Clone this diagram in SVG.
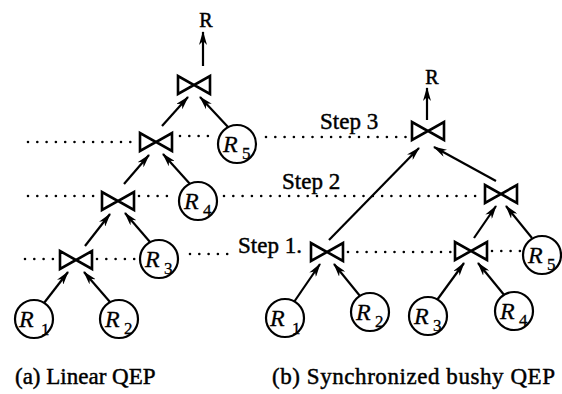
<svg xmlns="http://www.w3.org/2000/svg" width="562" height="394" viewBox="0 0 562 394">
<defs>
<style>
.bt{fill:none;stroke:#000;stroke-width:2.6;stroke-linejoin:miter}
.c{fill:#fff;stroke:#000;stroke-width:2.2}
.e{stroke:#000;stroke-width:2.2;fill:none;marker-end:url(#ah)}
.d{stroke:#000;stroke-width:2.6;stroke-linecap:round;stroke-dasharray:0 9.3;fill:none}
.rl{font-family:"Liberation Serif","Times New Roman",serif;font-style:italic;font-size:24px;fill:#000;stroke:#000;stroke-width:0.3}
.sb{font-family:"Liberation Serif","Times New Roman",serif;font-size:17px;fill:#000;stroke:#000;stroke-width:0.3}
.t{font-family:"Liberation Serif","Times New Roman",serif;font-size:23px;fill:#000;stroke:#000;stroke-width:0.45}
.top{font-family:"Liberation Serif","Times New Roman",serif;font-size:20px;fill:#000;text-anchor:middle;stroke:#000;stroke-width:0.5}
</style>
<marker id="ah" markerWidth="14" markerHeight="8" refX="13" refY="4" orient="auto" markerUnits="userSpaceOnUse">
<path d="M0,0 L14,4 L0,8 L4,4 Z" fill="#000"/>
</marker>
<path id="bow" d="M-16,-9 L-16,9 L0,0 Z M16,-9 L16,9 L0,0 Z"/>
</defs>

<g id="dotted-lines">
<line class="d" x1="28" y1="142" x2="135" y2="142"/>
<line class="d" x1="180" y1="136" x2="214" y2="136"/>
<line class="d" x1="266" y1="137" x2="406" y2="137"/>
<line class="d" x1="28" y1="196" x2="98" y2="196"/>
<line class="d" x1="139" y1="196" x2="176" y2="196"/>
<line class="d" x1="224" y1="196" x2="482" y2="196"/>
<line class="d" x1="25" y1="259" x2="56" y2="259"/>
<line class="d" x1="97" y1="259" x2="136" y2="259"/>
<line class="d" x1="190" y1="254" x2="233" y2="254"/>
<line class="d" x1="348" y1="252" x2="451" y2="252"/>
<line class="d" x1="492" y1="251" x2="521" y2="251"/>
</g>

<g id="connectors">
<line class="e" x1="44" y1="303" x2="68" y2="272"/>
<line class="e" x1="110" y1="302" x2="84" y2="272"/>
<line class="e" x1="85" y1="246" x2="110" y2="214"/>
<line class="e" x1="150" y1="242" x2="125" y2="213"/>
<line class="e" x1="124" y1="184" x2="149" y2="155"/>
<line class="e" x1="190" y1="184" x2="163" y2="154"/>
<line class="e" x1="162" y1="126" x2="188" y2="97"/>
<line class="e" x1="228" y1="127" x2="200" y2="97"/>
<line class="e" x1="203" y1="66" x2="203" y2="32"/>
<line class="e" x1="294" y1="302" x2="320" y2="264"/>
<line class="e" x1="360" y1="296" x2="334" y2="264"/>
<line class="e" x1="437" y1="300" x2="464" y2="263"/>
<line class="e" x1="505" y1="296" x2="478" y2="263"/>
<line class="e" x1="329" y1="240" x2="419" y2="148"/>
<line class="e" x1="496" y1="181" x2="434" y2="147"/>
<line class="e" x1="474" y1="238" x2="496" y2="206"/>
<line class="e" x1="532" y1="238" x2="506" y2="206"/>
<line class="e" x1="427" y1="120" x2="427" y2="88"/>
</g>

<g id="a-out"><text class="top" x="206" y="27">R</text></g>
<g id="a-J4"><use href="#bow" class="bt" x="194" y="85"/></g>
<g id="a-J3"><use href="#bow" class="bt" x="156" y="142"/></g>
<g id="a-J2"><use href="#bow" class="bt" x="118" y="201"/></g>
<g id="a-J1"><use href="#bow" class="bt" x="76" y="260"/></g>
<g id="a-R5"><circle class="c" cx="237" cy="144" r="19"/><text class="rl" x="223" y="152">R</text><text class="sb" x="242" y="159">5</text></g>
<g id="a-R4"><circle class="c" cx="198" cy="201" r="19"/><text class="rl" x="184" y="209">R</text><text class="sb" x="203" y="216">4</text></g>
<g id="a-R3"><circle class="c" cx="159" cy="259" r="19"/><text class="rl" x="145" y="267">R</text><text class="sb" x="164" y="274">3</text></g>
<g id="a-R1"><circle class="c" cx="34" cy="319" r="19"/><text class="rl" x="19" y="327">R</text><text class="sb" x="41" y="335">1</text></g>
<g id="a-R2"><circle class="c" cx="119" cy="319" r="19"/><text class="rl" x="105" y="327">R</text><text class="sb" x="124" y="334">2</text></g>

<g id="b-out"><text class="top" x="432" y="84">R</text></g>
<g id="b-JT"><use href="#bow" class="bt" x="428" y="131"/></g>
<g id="b-J2R"><use href="#bow" class="bt" x="501" y="194"/></g>
<g id="b-J1L"><use href="#bow" class="bt" x="327" y="252"/></g>
<g id="b-J1R"><use href="#bow" class="bt" x="471" y="251"/></g>
<g id="b-R5"><circle class="c" cx="542" cy="255" r="19"/><text class="rl" x="528" y="263">R</text><text class="sb" x="547" y="270">5</text></g>
<g id="b-R1"><circle class="c" cx="285" cy="318" r="19"/><text class="rl" x="270" y="326">R</text><text class="sb" x="292" y="334">1</text></g>
<g id="b-R2"><circle class="c" cx="370" cy="312" r="19"/><text class="rl" x="356" y="320">R</text><text class="sb" x="375" y="327">2</text></g>
<g id="b-R3"><circle class="c" cx="428" cy="316" r="19"/><text class="rl" x="414" y="324">R</text><text class="sb" x="433" y="331">3</text></g>
<g id="b-R4"><circle class="c" cx="514" cy="311" r="19"/><text class="rl" x="500" y="319">R</text><text class="sb" x="519" y="326">4</text></g>

<g id="labels">
<text class="t" x="320" y="129">Step 3</text>
<text class="t" x="282" y="189">Step 2</text>
<text class="t" x="238" y="253">Step 1.</text>
<text class="t" x="15" y="384">(a) Linear QEP</text>
<text class="t" x="272" y="384" textLength="283" lengthAdjust="spacing">(b) Synchronized bushy QEP</text>
</g>
</svg>
